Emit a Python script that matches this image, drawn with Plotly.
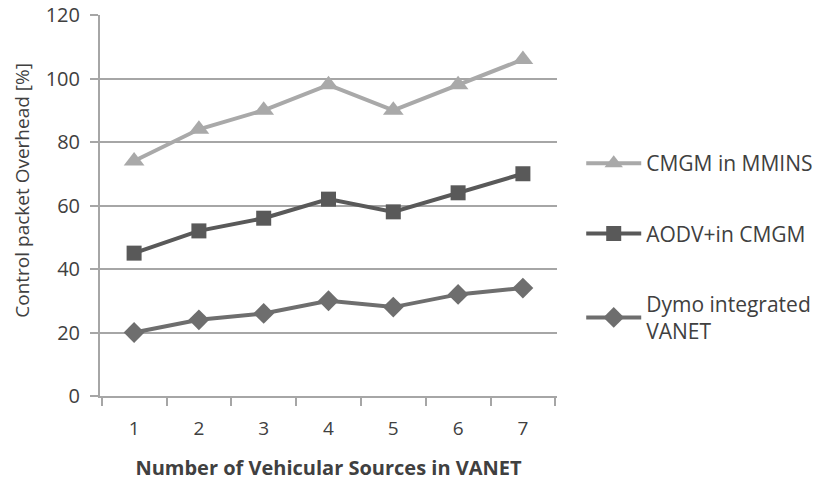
import plotly.graph_objects as go

# Number of vehicular sources (category axis)
sources = ["1", "2", "3", "4", "5", "6", "7"]

# Control packet overhead [%] per protocol
cmgm_mmins = [74, 84, 90, 98, 90, 98, 106]
aodv_cmgm = [45, 52, 56, 62, 58, 64, 70]
dymo_vanet = [20, 24, 26, 30, 28, 32, 34]

y_ticks = [0, 20, 40, 60, 80, 100, 120]

FONT = "Open Sans, Liberation Sans, sans-serif"
TEXT = "#404040"
GRID = "#a6a6a6"

fig = go.Figure()

fig.add_trace(go.Scatter(
    x=sources, y=cmgm_mmins, name="CMGM in MMINS", mode="lines+markers",
    legendgroup="a",
    line=dict(color="#a9a9a9", width=4),
    marker=dict(symbol="triangle-up", size=18, color="#a9a9a9"),
))
fig.add_trace(go.Scatter(
    x=sources, y=aodv_cmgm, name="AODV+in CMGM", mode="lines+markers",
    legendgroup="b",
    line=dict(color="#595959", width=4),
    marker=dict(symbol="square", size=15, color="#595959"),
))
fig.add_trace(go.Scatter(
    x=sources, y=dymo_vanet, name="Dymo integrated<br>VANET", mode="lines+markers",
    legendgroup="c",
    line=dict(color="#6e6e6e", width=4),
    marker=dict(symbol="diamond", size=16, color="#6e6e6e"),
))

fig.update_layout(
    width=817, height=481,
    margin=dict(l=100, r=260, t=15, b=85, autoexpand=False),
    paper_bgcolor="white", plot_bgcolor="white",
    font=dict(family=FONT, color=TEXT, size=19),
    showlegend=True,
    legend=dict(
        x=1.053, xanchor="left", y=0.664, yanchor="top",
        font=dict(size=21, color=TEXT),
        itemwidth=55, tracegroupgap=40,
        bgcolor="rgba(0,0,0,0)",
    ),
    xaxis=dict(
        type="category",
        automargin=False,
        tickson="boundaries",
        ticks="outside", ticklen=8, tickcolor=GRID, tickwidth=2,
        showline=True, linecolor=GRID, linewidth=2,
        showgrid=False,
        ticklabelstandoff=14,
        tickfont=dict(size=19, color=TEXT),
        title=dict(text="<b>Number of Vehicular Sources in VANET</b>",
                   font=dict(size=20, color=TEXT), standoff=22),
    ),
    yaxis=dict(
        range=[0, 120], tickvals=y_ticks,
        automargin=False,
        ticks="outside", ticklen=8, tickcolor=GRID, tickwidth=2,
        showline=True, linecolor=GRID, linewidth=2,
        showgrid=True, gridcolor=GRID, gridwidth=2,
        zeroline=False,
        ticklabelstandoff=6,
        tickfont=dict(size=20, color=TEXT),
    ),
    annotations=[dict(
        text="Control packet Overhead [%]",
        xref="paper", yref="paper", x=-0.171, y=0.541,
        xanchor="center", yanchor="middle", textangle=-90,
        showarrow=False, font=dict(size=19, color=TEXT),
    )],
)

fig.write_html("out.html")
